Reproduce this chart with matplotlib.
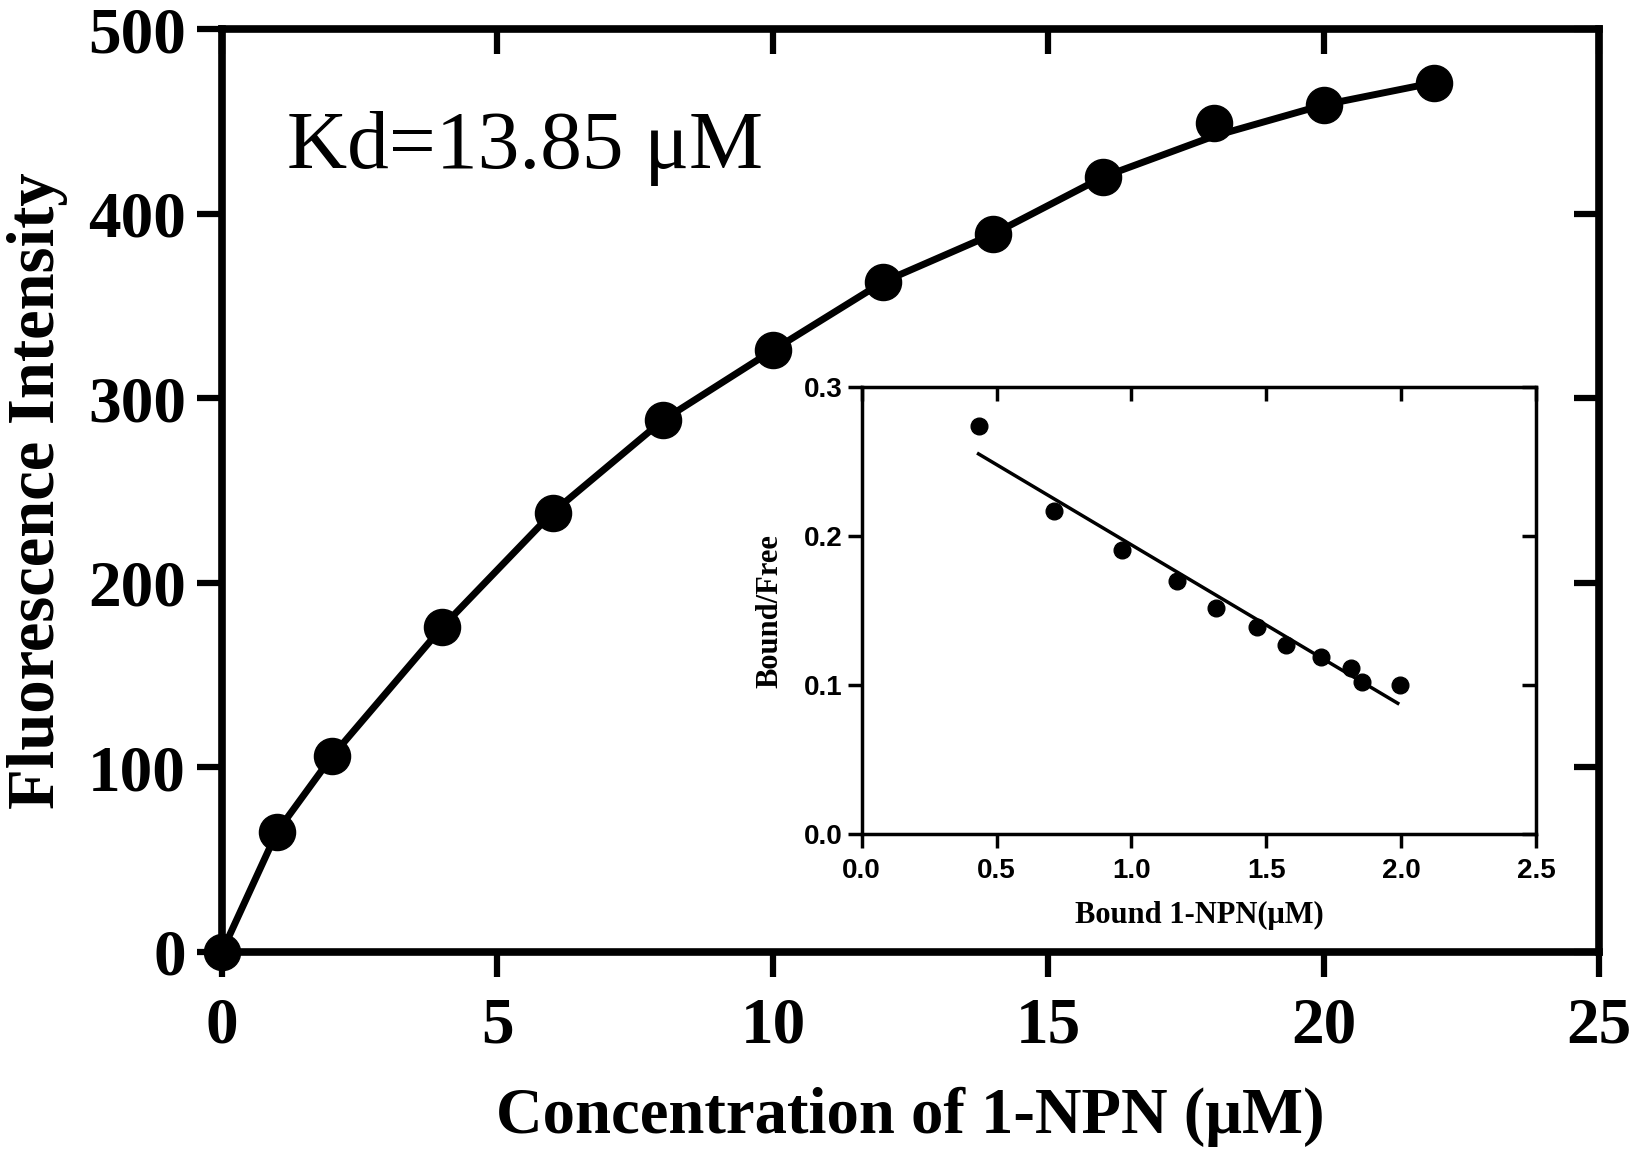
import matplotlib
matplotlib.use("Agg")
import matplotlib.pyplot as plt

# main titration data
conc = [0, 1, 2, 4, 6, 8, 10, 12, 14, 16, 18, 20, 22]
intensity = [0, 65, 106, 176, 238, 288, 326, 363, 389, 420, 449, 459, 471]
fit_intensity = [0, 65, 106, 176, 238, 288, 326, 363, 389, 420, 442, 459, 471]

# Scatchard inset data
bound = [0.433, 0.713, 0.965, 1.167, 1.315, 1.466, 1.574, 1.703, 1.815, 1.854, 1.996]
bound_free = [0.274, 0.217, 0.191, 0.170, 0.152, 0.139, 0.127, 0.119, 0.112, 0.102, 0.100]
line_x = [0.433, 1.987]
line_y = [0.2554, 0.0880]

x_ticks = [0, 5, 10, 15, 20, 25]
y_ticks = [0, 100, 200, 300, 400, 500]
ix_ticks = [0.0, 0.5, 1.0, 1.5, 2.0, 2.5]
iy_ticks = [0.0, 0.1, 0.2, 0.3]

plt.rcParams["font.family"] = ["Liberation Serif", "DejaVu Serif"]

fig = plt.figure(figsize=(16.37, 11.67), dpi=100)
ax = fig.add_axes([0.1356, 0.1845, 0.8414, 0.7905])

ax.plot(conc, fit_intensity, color="black", lw=5, zorder=3, clip_on=False)
ax.plot(conc, intensity, "o", color="black", ms=26, zorder=4, clip_on=False)

ax.set_xlim(0, 25)
ax.set_ylim(0, 500)
ax.set_xticks(x_ticks)
ax.set_yticks(y_ticks)
for s in ax.spines.values():
    s.set_linewidth(5.5)
ax.tick_params(direction="out", length=18, width=4.5, labelsize=47)
ax.tick_params(axis="x", pad=14)
ax.tick_params(axis="y", pad=8)
for lab in ax.get_xticklabels() + ax.get_yticklabels():
    lab.set_fontweight("bold")

top = ax.secondary_xaxis("top")
top.set_xticks(x_ticks, labels=[])
top.tick_params(direction="in", length=18, width=4.5)
top.spines["top"].set_visible(False)
right = ax.secondary_yaxis("right")
right.set_yticks(y_ticks, labels=[])
right.tick_params(direction="in", length=18, width=4.5)
right.spines["right"].set_visible(False)

ax.set_xlabel("Concentration of 1-NPN (μM)", fontsize=46.5, fontweight="bold", labelpad=22)
ax.set_ylabel("Fluorescence Intensity", fontsize=48, fontweight="bold", labelpad=14)
ax.text(1.18, 425, "Kd=13.85 μM", fontsize=60, va="baseline", ha="left")

# inset Scatchard plot
ins = fig.add_axes([0.5264, 0.285, 0.412, 0.383])
ins.plot(line_x, line_y, color="black", lw=2.5)
ins.plot(bound, bound_free, "o", color="black", ms=12)
ins.set_xlim(0, 2.5)
ins.set_ylim(0, 0.3)
ins.set_xticks(ix_ticks)
ins.set_yticks(iy_ticks)
ins.set_xticklabels([f"{v:.1f}" for v in ix_ticks])
ins.set_yticklabels([f"{v:.1f}" for v in iy_ticks])
for s in ins.spines.values():
    s.set_linewidth(2.5)
ins.tick_params(direction="out", length=10, width=2.5, labelsize=20)
ins.tick_params(axis="x", pad=7)
ins.tick_params(axis="y", pad=4)
for lab in ins.get_xticklabels() + ins.get_yticklabels():
    lab.set_fontfamily("Liberation Sans")
    lab.set_fontweight("bold")

itop = ins.secondary_xaxis("top")
itop.set_xticks(ix_ticks, labels=[])
itop.tick_params(direction="in", length=10, width=2.5)
itop.spines["top"].set_visible(False)
iright = ins.secondary_yaxis("right")
iright.set_yticks(iy_ticks, labels=[])
iright.tick_params(direction="in", length=10, width=2.5)
iright.spines["right"].set_visible(False)

ins.set_xlabel("Bound 1-NPN(μM)", fontsize=22, fontweight="bold", labelpad=12)
ins.set_ylabel("Bound/Free", fontsize=22, fontweight="bold", labelpad=14)

fig.savefig("out.png", dpi=100)
plt.close(fig)
